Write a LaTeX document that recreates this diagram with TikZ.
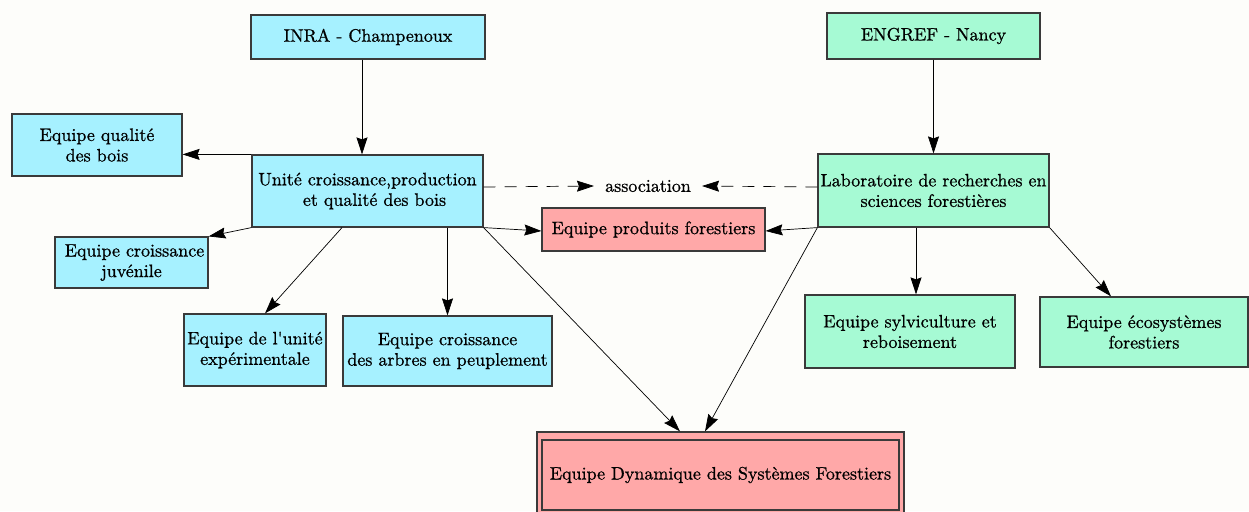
\documentclass[tikz,border=0pt]{standalone}
\usepackage{fontspec}
\setmainfont{lmroman10-regular.otf}[FakeBold=0.8]
\usetikzlibrary{arrows.meta,calc}
\definecolor{cyanbox}{HTML}{A6F1FF}
\definecolor{greenbox}{HTML}{A6FAD4}
\definecolor{pinkbox}{HTML}{FFA8A8}
\definecolor{boxline}{HTML}{3A3A3A}
\definecolor{bg}{HTML}{FDFDFA}
\begin{document}
\begin{tikzpicture}[x=1pt,y=-1pt,
  font=\fontsize{18}{20.5}\selectfont,
  box/.style={draw=boxline,line width=1.2pt,inner sep=0pt,align=center,anchor=center},
  cbox/.style={box,fill=cyanbox},
  gbox/.style={box,fill=greenbox},
  pbox/.style={box,fill=pinkbox},
  arr/.style={line width=0.7pt,-{Stealth[length=17pt,width=11pt,inset=2pt]}},
  dsh/.style={arr,dash pattern=on 12pt off 9pt}]
\useasboundingbox (0,0) rectangle (1249,511);
\clip (0,0) rectangle (1249,511);
\fill[bg] (0,0) rectangle (1249,511);
% nodes
\node[cbox,minimum width=234pt,minimum height=44pt] (inra) at (368,37) {INRA - Champenoux};
\node[cbox,minimum width=170pt,minimum height=62pt] (qual) at (97,145) {Equipe qualité\\des bois};
\node[cbox,minimum width=231pt,minimum height=72pt] (unite) at (367.5,191) {Unité croissance,production\\\hspace*{14pt}et qualité des bois};
\node[cbox,minimum width=153pt,minimum height=51pt] (juv) at (131.5,262.5) {\hspace*{6pt}Equipe croissance\\juvénile};
\node[cbox,minimum width=142pt,minimum height=72pt] (expe) at (255,350) {Equipe de l\textquotesingle unité\\expérimentale};
\node[cbox,minimum width=209pt,minimum height=70pt] (peup) at (447.5,351) {Equipe croissance\\des arbres en peuplement};
\node[pbox,minimum width=223pt,minimum height=43pt] (prod) at (653.5,229.5) {Equipe produits forestiers};
\node[inner xsep=11pt,inner ysep=2pt,anchor=center] (assoc) at (648,186) {association};
\node[gbox,minimum width=213pt,minimum height=46pt] (engref) at (933.5,36) {ENGREF - Nancy};
\node[gbox,minimum width=231pt,minimum height=73pt] (labo) at (933.5,190.5) {Laboratoire de recherches en\\sciences forestières};
\node[gbox,minimum width=210pt,minimum height=73pt] (sylv) at (910,331.5) {Equipe sylviculture et\\reboisement};
\node[gbox,minimum width=208pt,minimum height=70pt] (eco) at (1144,332) {Equipe écosystèmes\\forestiers};
\node[pbox,minimum width=367pt,minimum height=88pt] (dyn) at (720.5,476) {};
\node[pbox,minimum width=357pt,minimum height=70pt] (dyni) at (720.5,475) {Equipe Dynamique des Systèmes Forestiers};
% connectors
\draw[arr] ([xshift=-6pt]inra.south) -- ([xshift=-6pt]inra.south |- unite.north);
\draw[arr] (unite.north west) -- (qual.east |- unite.north west);
\draw[arr] (unite.south west) -- (juv.north east);
\draw[arr] ([xshift=-25.5pt]unite.south) -- ([xshift=10pt]expe.north);
\draw[arr] ([xshift=80pt]unite.south) -- (peup.north);
\draw[arr] (unite.south east) -- ([yshift=-1.5pt]prod.west);
\draw[arr] (unite.south east) -- ([xshift=-40.5pt]dyn.north);
\draw[dsh] ([yshift=4pt]unite.east) -- (assoc.west);
\draw[dsh] ([yshift=3.5pt]labo.west) -- (assoc.east);
\draw[arr] (engref.south) -- (labo.north);
\draw[arr] (labo.south west) -- ([yshift=-1.5pt]prod.east);
\draw[arr] (labo.south west) -- ([xshift=-15.5pt]dyn.north);
\draw[arr] ([xshift=-17.5pt]labo.south) -- ([xshift=6pt]sylv.north);
\draw[arr] (labo.south east) -- ([xshift=-33pt]eco.north);
\end{tikzpicture}
\end{document}
